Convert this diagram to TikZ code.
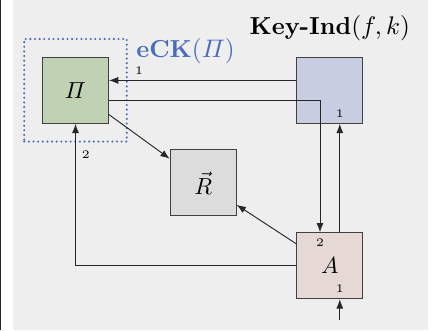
\documentclass[tikz,border=0pt]{standalone}
\usepackage{amsmath}
\usetikzlibrary{positioning,fit,arrows.meta}

\definecolor{bggray}{HTML}{EEEEEE}
\definecolor{pifill}{RGB}{193,210,180}
\definecolor{keyfill}{RGB}{200,205,225}
\definecolor{rfill}{RGB}{220,220,220}
\definecolor{afill}{RGB}{230,217,213}
\definecolor{eckblue}{RGB}{72,108,190}

\begin{document}
\begin{tikzpicture}[
  box/.style={draw=black!75, minimum size=1cm, inner sep=0pt},
  num/.style={font=\tiny, inner sep=2.5pt},
  title/.style={font=\fontsize{10.6pt}{13pt}\selectfont},
  wire/.style={draw=black!85, ->},
  >={Latex[length=4pt,width=3pt]}
]
\useasboundingbox (0,0) rectangle (6.545,5);
\fill[bggray] (0.197,0) rectangle (6.485,5);
\fill[black!85] (0,0) rectangle (0.02,5);

\node[box,fill=pifill](Pi) at (1.144,3.632){$\varPi$};
\node[box,fill=keyfill, right=2.84cm of Pi](key){};
\node[box,fill=afill, below=1.645cm of key](A){$A$};
\node[box,fill=rfill, below right=0.39cm and 0.92cm of Pi](R){$\vec{R}$};

\node[draw=eckblue, line width=1pt, dash pattern=on 0pt off 2pt, line cap=round,
  fit=(Pi), inner sep=0.27cm](eck){};
\node[title, anchor=north west, inner sep=0pt, text=eckblue](ecklabel)
  at ([xshift=0.12cm]eck.north east){\textbf{eCK}$(\varPi)$};
\node[title, above=0.12cm of key](keylabel){\textbf{Key-Ind}$(f,k)$};

\node[num, above](k1) at ([xshift=0.15cm]key.south){1};
\node[num, below](a2) at ([xshift=-0.15cm]A.north){2};
\node[num, above](a1) at ([xshift=0.15cm]A.south){1};
\coordinate (Ain) at ([xshift=0.15cm,yshift=-0.31cm]A.south);

\draw[wire] ([yshift=0.15cm]key.west) -- node[num, above, pos=0.84]{1} ([yshift=0.15cm]Pi.east);
\draw[wire] ([yshift=-0.15cm]Pi.east) -| ([xshift=-0.15cm]A.north);
\draw[wire] ([xshift=0.15cm]A.north) -- ([xshift=0.15cm]key.south);
\draw[wire] (Ain) -- ([xshift=0.15cm]A.south);
\draw[wire] (A.west) -| node[num, right, pos=0.89]{2} (Pi.south);
\path (Pi) edge[wire] (R);
\path (A) edge[wire] (R);

\end{tikzpicture}
\end{document}
